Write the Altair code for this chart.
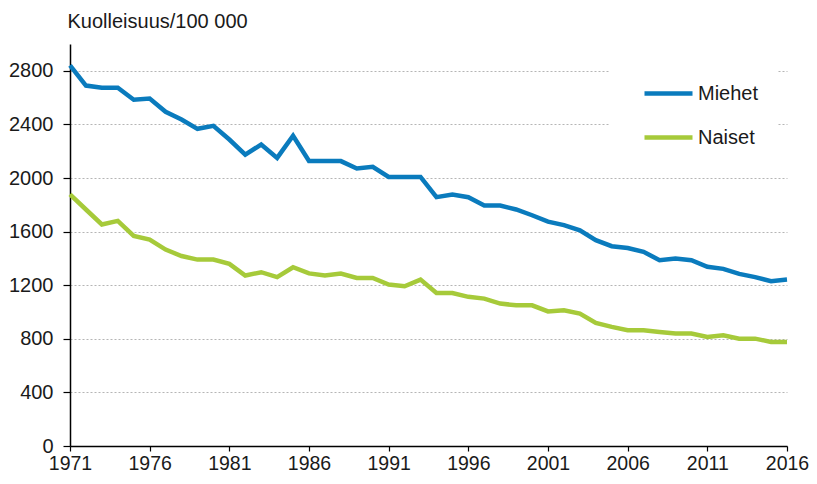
import altair as alt
import pandas as pd

years = list(range(1971, 2017))

miehet = [2840, 2690, 2673, 2673, 2584, 2593, 2494, 2437, 2367, 2389,
          2287, 2175, 2250, 2150, 2315, 2127, 2126, 2126, 2071, 2083,
          2008, 2008, 2008, 1857, 1876, 1857, 1794, 1794, 1765, 1722,
          1674, 1648, 1610, 1536, 1491, 1478, 1449, 1387, 1399, 1387,
          1337, 1322, 1284, 1260, 1230, 1242]

naiset = [1877, 1765, 1653, 1680, 1568, 1541, 1466, 1418, 1391, 1391,
          1359, 1272, 1297, 1260, 1334, 1288, 1272, 1287, 1254, 1254,
          1205, 1192, 1242, 1142, 1142, 1113, 1100, 1063, 1050, 1050,
          1004, 1013, 988, 918, 889, 864, 864, 851, 839, 839,
          814, 826, 801, 801, 777, 777]

series = ["Miehet", "Naiset"]
colors = ["#0a7bbd", "#a6ca3a"]
x_ticks = [1971, 1976, 1981, 1986, 1991, 1996, 2001, 2006, 2011, 2016]
y_ticks = [0, 400, 800, 1200, 1600, 2000, 2400, 2800]

df = pd.DataFrame({
    "Vuosi": years * 2,
    "Arvo": miehet + naiset,
    "Sukupuoli": ["Miehet"] * len(years) + ["Naiset"] * len(years),
})

FONT = "Liberation Sans"
TXT = "#1a1a1a"

chart = alt.Chart(df).mark_line(strokeWidth=4.5).encode(
    x=alt.X("Vuosi:Q",
            scale=alt.Scale(domain=[1971, 2016], nice=False, zero=False),
            axis=alt.Axis(values=x_ticks, format="d", title=None, grid=False,
                          labelFlush=False, labelOverlap=False,
                          tickSize=5, labelPadding=3, labelFontSize=19.5,
                          labelFont=FONT, labelColor=TXT,
                          domainColor="#000", domainWidth=1.5,
                          tickColor="#000", tickWidth=1.2)),
    y=alt.Y("Arvo:Q",
            scale=alt.Scale(domain=[0, 3000], nice=False),
            axis=alt.Axis(values=y_ticks, format="d",
                          title="Kuolleisuus/100 000",
                          titleAngle=0, titleAlign="left",
                          titleBaseline="alphabetic", titleX=-3, titleY=-17,
                          titleFontSize=20, titleFontWeight="normal",
                          titleFont=FONT, titleColor=TXT,
                          grid=True, gridColor="#b5b5b5", gridDash=[2, 2],
                          gridWidth=1,
                          tickSize=7, labelPadding=10, labelFontSize=20,
                          labelFont=FONT, labelColor=TXT,
                          domainColor="#000", domainWidth=1.5,
                          tickColor="#000", tickWidth=1.2)),
    color=alt.Color("Sukupuoli:N",
                    scale=alt.Scale(domain=series, range=colors),
                    legend=alt.Legend(title=None, orient="none",
                                      legendX=539, legendY=5,
                                      symbolType="stroke", symbolSize=2304,
                                      symbolStrokeWidth=4.5,
                                      symbolOffset=15, padding=18,
                                      rowPadding=7, labelOffset=3,
                                      labelFontSize=20, labelFont=FONT,
                                      labelColor=TXT,
                                      fillColor="#ffffff")),
).properties(
    width=717,
    height=402,
    autosize=alt.AutoSizeParams(type="none"),
    padding={"left": 62, "top": 36, "right": 22, "bottom": 30},
).configure_view(stroke=None)

chart.save("out.html", embed_options={"renderer": "svg", "actions": False})
